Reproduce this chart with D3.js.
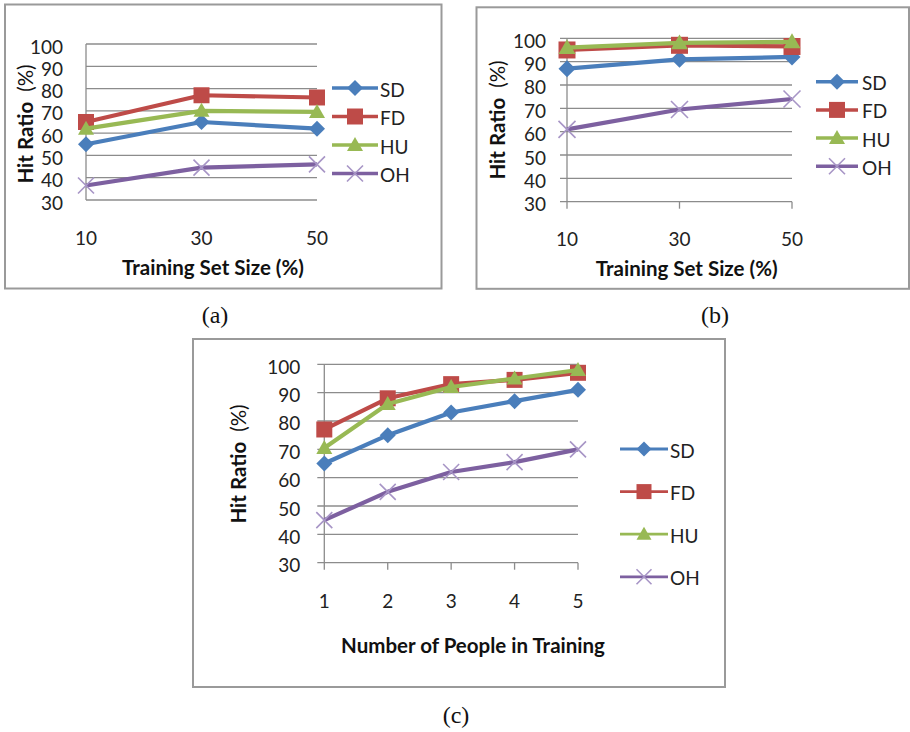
<!DOCTYPE html>
<html>
<head>
<meta charset="utf-8">
<script src="https://cdn.jsdelivr.net/npm/d3@7"></script>
<style>
  body { margin: 0; background: #fff; }
  svg { display: block; }
  .tick-label { font-family: Lato, "Open Sans", sans-serif; font-size: 19px; fill: #222; }
  .axis-title { font-family: Lato, "Open Sans", sans-serif; font-size: 20.5px; font-weight: bold; fill: #111; }
  .legend-label { font-family: Lato, "Open Sans", sans-serif; font-size: 19px; fill: #222; }
  .caption { font-family: "Liberation Serif", "DejaVu Serif", serif; font-size: 24px; fill: #111; }
</style>
</head>
<body>
<svg id="chart" width="910" height="732"></svg>
<script>
// Series and categories
const seriesNames = ['SD', 'FD', 'HU', 'OH'];
const seriesColors = ['#4A7EBB', '#BE4B48', '#98B954', '#7D60A0'];
const markerTypes = ['diamond', 'square', 'triangle', 'cross'];
const yTicks = [30, 40, 50, 60, 70, 80, 90, 100];

const trainingSizes = ['10', '30', '50'];
const peopleCounts = ['1', '2', '3', '4', '5'];

// (a) hit ratio vs training set size
const sdA = [55, 65, 62];
const fdA = [65, 77, 76];
const huA = [62, 70, 69.5];
const ohA = [36.5, 44.5, 46];

// (b) hit ratio vs training set size
const sdB = [87, 91, 92];
const fdB = [95, 97, 96.5];
const huB = [96, 98, 98.5];
const ohB = [61, 69.5, 74];

// (c) hit ratio vs number of people in training
const sdC = [65, 75, 83, 87, 91];
const fdC = [77, 88, 93, 94.5, 97];
const huC = [70.5, 86, 92, 95, 98];
const ohC = [45, 55, 62, 65.5, 70];

const svg = d3.select('#chart');

function markerPath(type, s) {
    const h = s / 2;
    if (type === 'diamond') return `M0,${-h}L${h},0L0,${h}L${-h},0Z`;
    if (type === 'square') return `M${-h},${-h}H${h}V${h}H${-h}Z`;
    if (type === 'triangle') return `M0,${-h}L${h},${h * 0.75}L${-h},${h * 0.75}Z`;
    return `M${-h},${-h}L${h},${h}M${-h},${h}L${h},${-h}`;
}

function drawMarker(g, type, color, x, y, s) {
    const p = g.append('path')
        .attr('transform', `translate(${x},${y})`)
        .attr('d', markerPath(type, s));
    if (type === 'cross') {
        p.attr('fill', 'none').attr('stroke', '#A795C6').attr('stroke-width', 1.6);
    } else {
        p.attr('fill', color);
    }
}

function drawPanel(cfg) {
    const g = svg.append('g');

    // Frame
    g.append('rect')
        .attr('x', cfg.frame.x).attr('y', cfg.frame.y)
        .attr('width', cfg.frame.w).attr('height', cfg.frame.h)
        .attr('fill', '#fff').attr('stroke', '#9a9a9a').attr('stroke-width', 2);

    const x = d3.scalePoint()
        .domain(cfg.categories)
        .range([cfg.plot.left, cfg.plot.right]);
    const y = d3.scaleLinear()
        .domain([30, 100])
        .range([cfg.plot.bottom, cfg.plot.top]);

    // Gridlines
    const tickLen = cfg.ticks ? 7 : 0;
    g.selectAll('.grid')
        .data(yTicks)
        .enter().append('line')
        .attr('x1', cfg.plot.left - tickLen)
        .attr('x2', cfg.plot.right)
        .attr('y1', d => y(d)).attr('y2', d => y(d))
        .attr('stroke', '#8c8c8c').attr('stroke-width', 1.3);

    // Y axis line
    g.append('line')
        .attr('x1', cfg.plot.left).attr('x2', cfg.plot.left)
        .attr('y1', cfg.plot.top).attr('y2', cfg.plot.bottom)
        .attr('stroke', '#8c8c8c').attr('stroke-width', 1.3);

    // X axis ticks
    if (cfg.ticks) {
        g.selectAll('.xtick')
            .data(cfg.categories)
            .enter().append('line')
            .attr('x1', d => x(d)).attr('x2', d => x(d))
            .attr('y1', cfg.plot.bottom).attr('y2', cfg.plot.bottom + tickLen)
            .attr('stroke', '#8c8c8c').attr('stroke-width', 1.3);
    }

    // Y tick labels
    g.selectAll('.ylab')
        .data(yTicks)
        .enter().append('text')
        .attr('class', 'tick-label')
        .attr('x', cfg.plot.left - cfg.yLabelGap)
        .attr('y', d => y(d) + 2)
        .attr('text-anchor', 'end')
        .attr('dominant-baseline', 'central')
        .text(d => d);

    // X tick labels
    g.selectAll('.xlab')
        .data(cfg.categories)
        .enter().append('text')
        .attr('class', 'tick-label')
        .attr('x', d => x(d))
        .attr('y', cfg.xTickY)
        .attr('text-anchor', 'middle')
        .attr('dominant-baseline', 'central')
        .text(d => d);

    // Axis titles
    const yt = g.append('text')
        .attr('class', 'axis-title')
        .attr('transform', `translate(${cfg.yTitle.x},${cfg.yTitle.y}) rotate(-90)`)
        .attr('text-anchor', 'middle')
        .attr('dominant-baseline', 'central');
    yt.append('tspan').text('Hit Ratio');
    yt.append('tspan').attr('dx', 10).attr('font-weight', 'normal').text('(%)');

    g.append('text')
        .attr('class', 'axis-title')
        .attr('x', cfg.xTitle.x).attr('y', cfg.xTitle.y)
        .attr('text-anchor', 'middle')
        .attr('dominant-baseline', 'central')
        .text(cfg.xTitle.text);

    // Series
    const line = d3.line()
        .x((d, i) => x(cfg.categories[i]))
        .y(d => y(d));

    cfg.series.forEach((vals, si) => {
        g.append('path')
            .datum(vals)
            .attr('d', line)
            .attr('fill', 'none')
            .attr('stroke', seriesColors[si])
            .attr('stroke-width', cfg.lineWidth)
            .attr('stroke-linejoin', 'round');
        vals.forEach((v, i) => {
            drawMarker(g, markerTypes[si], seriesColors[si], x(cfg.categories[i]), y(v), cfg.markerSize);
        });
    });

    // Legend
    seriesNames.forEach((name, si) => {
        const ly = cfg.legend.y0 + si * cfg.legend.dy;
        g.append('line')
            .attr('x1', cfg.legend.x1).attr('x2', cfg.legend.x2)
            .attr('y1', ly).attr('y2', ly)
            .attr('stroke', seriesColors[si])
            .attr('stroke-width', cfg.legend.lineWidth);
        drawMarker(g, markerTypes[si], seriesColors[si], (cfg.legend.x1 + cfg.legend.x2) / 2, ly, cfg.legend.markerSize);
        g.append('text')
            .attr('class', 'legend-label')
            .attr('x', cfg.legend.tx).attr('y', ly + 1)
            .attr('dominant-baseline', 'central')
            .text(name);
    });

    // Caption
    svg.append('text')
        .attr('class', 'caption')
        .attr('x', cfg.caption.x).attr('y', cfg.caption.y)
        .attr('text-anchor', 'middle')
        .attr('dominant-baseline', 'central')
        .text(cfg.caption.text);
}

drawPanel({
    frame: { x: 5, y: 4.5, w: 436.5, h: 284 },
    plot: { left: 86, right: 317, top: 44, bottom: 200 },
    categories: trainingSizes,
    series: [sdA, fdA, huA, ohA],
    ticks: false,
    yLabelGap: 23,
    xTickY: 237,
    yTitle: { x: 25, y: 124 },
    xTitle: { x: 213, y: 267, text: 'Training Set Size (%)' },
    lineWidth: 4.2,
    markerSize: 16,
    legend: { x1: 332, x2: 378, tx: 380, y0: 88, dy: 28.5, lineWidth: 3.5, markerSize: 16 },
    caption: { x: 215, y: 315, text: '(a)' }
});

drawPanel({
    frame: { x: 476.5, y: 7.3, w: 432.5, h: 281.5 },
    plot: { left: 567, right: 792, top: 38.3, bottom: 201.7 },
    categories: trainingSizes,
    series: [sdB, fdB, huB, ohB],
    ticks: true,
    yLabelGap: 21,
    xTickY: 238,
    yTitle: { x: 497, y: 120 },
    xTitle: { x: 686.7, y: 268, text: 'Training Set Size (%)' },
    lineWidth: 4.2,
    markerSize: 17,
    legend: { x1: 816, x2: 858, tx: 862, y0: 81.7, dy: 28.2, lineWidth: 3.5, markerSize: 16 },
    caption: { x: 715, y: 315, text: '(b)' }
});

drawPanel({
    frame: { x: 193, y: 339, w: 532, h: 348 },
    plot: { left: 324.3, right: 578, top: 364.3, bottom: 562.7 },
    categories: peopleCounts,
    series: [sdC, fdC, huC, ohC],
    ticks: true,
    yLabelGap: 24,
    xTickY: 600,
    yTitle: { x: 238, y: 464 },
    xTitle: { x: 473, y: 645, text: 'Number of People in Training' },
    lineWidth: 4.2,
    markerSize: 16,
    legend: { x1: 620, x2: 668, tx: 670, y0: 449, dy: 42.6, lineWidth: 2.8, markerSize: 15 },
    caption: { x: 456, y: 715, text: '(c)' }
});
</script>
</body>
</html>
